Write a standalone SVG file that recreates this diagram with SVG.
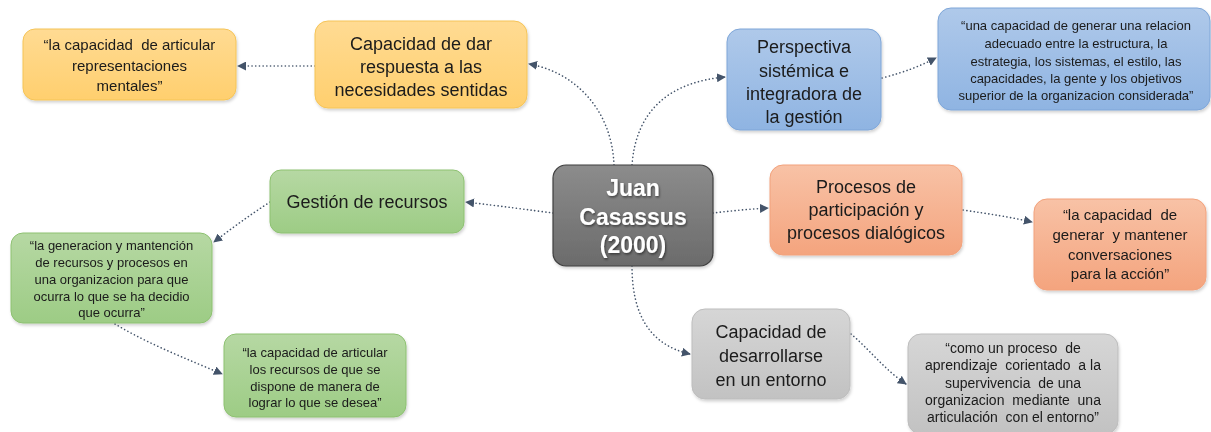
<svg xmlns="http://www.w3.org/2000/svg" width="1211" height="432" viewBox="0 0 1211 432">
<style>
text{white-space:pre}
.t{font-family:"Liberation Sans",Arial,sans-serif;fill:#1a1a1a;text-anchor:middle}
.m{font-size:18px}
.q{font-size:13px}
.c{font-family:"Liberation Sans",Arial,sans-serif;font-weight:bold;font-size:23px;fill:#fff;text-anchor:middle}
.conn{fill:none;stroke:#44546A;stroke-width:1.6;stroke-linecap:round;stroke-dasharray:0.1 3.6;marker-end:url(#ah)}
.yl{fill:url(#gy);stroke:#F5C457;stroke-width:1}
.bl{fill:url(#gb);stroke:#7EA6D8;stroke-width:1}
.gr{fill:url(#gg);stroke:#8DC171;stroke-width:1}
.or{fill:url(#go);stroke:#F2A27C;stroke-width:1}
.gy{fill:url(#gx);stroke:#BDBDBD;stroke-width:1}
</style>
<defs>
<linearGradient id="gy" x1="0" y1="0" x2="0" y2="1"><stop offset="0" stop-color="#FFDB93"/><stop offset="1" stop-color="#FFCF6E"/></linearGradient>
<linearGradient id="gb" x1="0" y1="0" x2="0" y2="1"><stop offset="0" stop-color="#AFC9EA"/><stop offset="1" stop-color="#8FB4E2"/></linearGradient>
<linearGradient id="gg" x1="0" y1="0" x2="0" y2="1"><stop offset="0" stop-color="#B6D8A3"/><stop offset="1" stop-color="#9DCC85"/></linearGradient>
<linearGradient id="go" x1="0" y1="0" x2="0" y2="1"><stop offset="0" stop-color="#F8C2A6"/><stop offset="1" stop-color="#F4A47E"/></linearGradient>
<linearGradient id="gx" x1="0" y1="0" x2="0" y2="1"><stop offset="0" stop-color="#D6D6D6"/><stop offset="1" stop-color="#C2C2C2"/></linearGradient>
<linearGradient id="gc" x1="0" y1="0" x2="0" y2="1"><stop offset="0" stop-color="#8C8C8C"/><stop offset="1" stop-color="#6B6B6B"/></linearGradient>
<filter id="sh" x="-10%" y="-10%" width="130%" height="130%"><feDropShadow dx="1" dy="2" stdDeviation="1.5" flood-color="#000" flood-opacity="0.18"/></filter>
<filter id="ts" x="-10%" y="-10%" width="130%" height="130%"><feDropShadow dx="1" dy="1.5" stdDeviation="1" flood-color="#000" flood-opacity="0.5"/></filter>
<marker id="ah" viewBox="0 0 10 10" refX="9" refY="5" markerWidth="9" markerHeight="9" markerUnits="userSpaceOnUse" orient="auto"><path d="M0,0 L10,5 L0,10 Z" fill="#44546A"/></marker>
</defs>
<g id="connectors">
<path class="conn" d="M614,165 C612,110 575,72 529,64"/>
<path class="conn" d="M632,165 C636,110 670,82 725,77"/>
<path class="conn" d="M315,66 L238,66"/>
<path class="conn" d="M882,78 C905,72 920,66 936,58"/>
<path class="conn" d="M553,213 C530,210 500,206 466,202"/>
<path class="conn" d="M270,202 C250,215 232,228 214,242"/>
<path class="conn" d="M115,324 C150,345 190,360 222,374"/>
<path class="conn" d="M713,213 C730,211 750,209 768,208"/>
<path class="conn" d="M963,210 C990,214 1010,217 1032,222"/>
<path class="conn" d="M632,266 C632,315 650,345 690,354"/>
<path class="conn" d="M851,334 C870,350 885,370 906,384"/>
</g>
<g id="n-yellow-quote" filter="url(#sh)">
<rect class="yl" x="23" y="29" width="213" height="71" rx="12"/>
<text class="t q" x="129.5" y="50" style="font-size:15px">“la capacidad  de articular</text>
<text class="t q" x="129.5" y="71" style="font-size:15px">representaciones</text>
<text class="t q" x="129.5" y="91" style="font-size:15px">mentales”</text>
</g>
<g id="n-capacidad-respuesta" filter="url(#sh)">
<rect class="yl" x="315" y="21" width="212" height="87" rx="13"/>
<text class="t m" x="421" y="50">Capacidad de dar</text>
<text class="t m" x="421" y="73">respuesta a las</text>
<text class="t m" x="421" y="96">necesidades sentidas</text>
</g>
<g id="n-perspectiva" filter="url(#sh)">
<rect class="bl" x="727" y="29" width="154" height="101" rx="13"/>
<text class="t m" x="804" y="53">Perspectiva</text>
<text class="t m" x="804" y="77">sistémica e</text>
<text class="t m" x="804" y="100">integradora de</text>
<text class="t m" x="804" y="123">la gestión</text>
</g>
<g id="n-blue-quote" filter="url(#sh)">
<rect class="bl" x="938" y="8" width="272" height="102" rx="13"/>
<text class="t q" x="1076" y="30">“una capacidad de generar una relacion</text>
<text class="t q" x="1076" y="48">adecuado entre la estructura, la</text>
<text class="t q" x="1076" y="66">estrategia, los sistemas, el estilo, las</text>
<text class="t q" x="1076" y="83">capacidades, la gente y los objetivos</text>
<text class="t q" x="1076" y="100">superior de la organizacion considerada”</text>
</g>
<g id="n-central" filter="url(#sh)">
<rect x="553" y="165" width="160" height="101" rx="13" fill="url(#gc)" stroke="#3F3F3F" stroke-width="1.2"/>
<g filter="url(#ts)">
<text class="c" x="633" y="196">Juan</text>
<text class="c" x="633" y="225">Casassus</text>
<text class="c" x="633" y="253">(2000)</text>
</g>
</g>
<g id="n-gestion" filter="url(#sh)">
<rect class="gr" x="270" y="170" width="194" height="63" rx="11"/>
<text class="t m" x="367" y="208">Gestión de recursos</text>
</g>
<g id="n-green-quote-1" filter="url(#sh)">
<rect class="gr" x="11" y="233" width="201" height="90" rx="12"/>
<text class="t q" x="111.5" y="250">“la generacion y mantención</text>
<text class="t q" x="111.5" y="267">de recursos y procesos en</text>
<text class="t q" x="111.5" y="284">una organizacion para que</text>
<text class="t q" x="111.5" y="301">ocurra lo que se ha decidio</text>
<text class="t q" x="111.5" y="317">que ocurra”</text>
</g>
<g id="n-green-quote-2" filter="url(#sh)">
<rect class="gr" x="224" y="334" width="182" height="83" rx="12"/>
<text class="t q" x="315" y="357">“la capacidad de articular</text>
<text class="t q" x="315" y="374">los recursos de que se</text>
<text class="t q" x="315" y="391">dispone de manera de</text>
<text class="t q" x="315" y="407">lograr lo que se desea”</text>
</g>
<g id="n-procesos" filter="url(#sh)">
<rect class="or" x="770" y="165" width="192" height="90" rx="13"/>
<text class="t m" x="866" y="193">Procesos de</text>
<text class="t m" x="866" y="216">participación y</text>
<text class="t m" x="866" y="239">procesos dialógicos</text>
</g>
<g id="n-orange-quote" filter="url(#sh)">
<rect class="or" x="1034" y="199" width="172" height="91" rx="13"/>
<text class="t q" x="1120" y="220" style="font-size:15px">“la capacidad  de</text>
<text class="t q" x="1120" y="240" style="font-size:15px">generar  y mantener</text>
<text class="t q" x="1120" y="260" style="font-size:15px">conversaciones</text>
<text class="t q" x="1120" y="279" style="font-size:15px">para la acción”</text>
</g>
<g id="n-desarrollarse" filter="url(#sh)">
<rect class="gy" x="692" y="309" width="158" height="90" rx="13"/>
<text class="t m" x="771" y="338">Capacidad de</text>
<text class="t m" x="771" y="362">desarrollarse</text>
<text class="t m" x="771" y="386">en un entorno</text>
</g>
<g id="n-gray-quote" filter="url(#sh)">
<rect class="gy" x="908" y="334" width="210" height="100" rx="13"/>
<text class="t q" x="1013" y="353" style="font-size:14px">“como un proceso  de</text>
<text class="t q" x="1013" y="370" style="font-size:14px">aprendizaje  corientado  a la</text>
<text class="t q" x="1013" y="388" style="font-size:14px">supervivencia  de una</text>
<text class="t q" x="1013" y="405" style="font-size:14px">organizacion  mediante  una</text>
<text class="t q" x="1013" y="422" style="font-size:14px">articulación  con el entorno”</text>
</g>
</svg>
